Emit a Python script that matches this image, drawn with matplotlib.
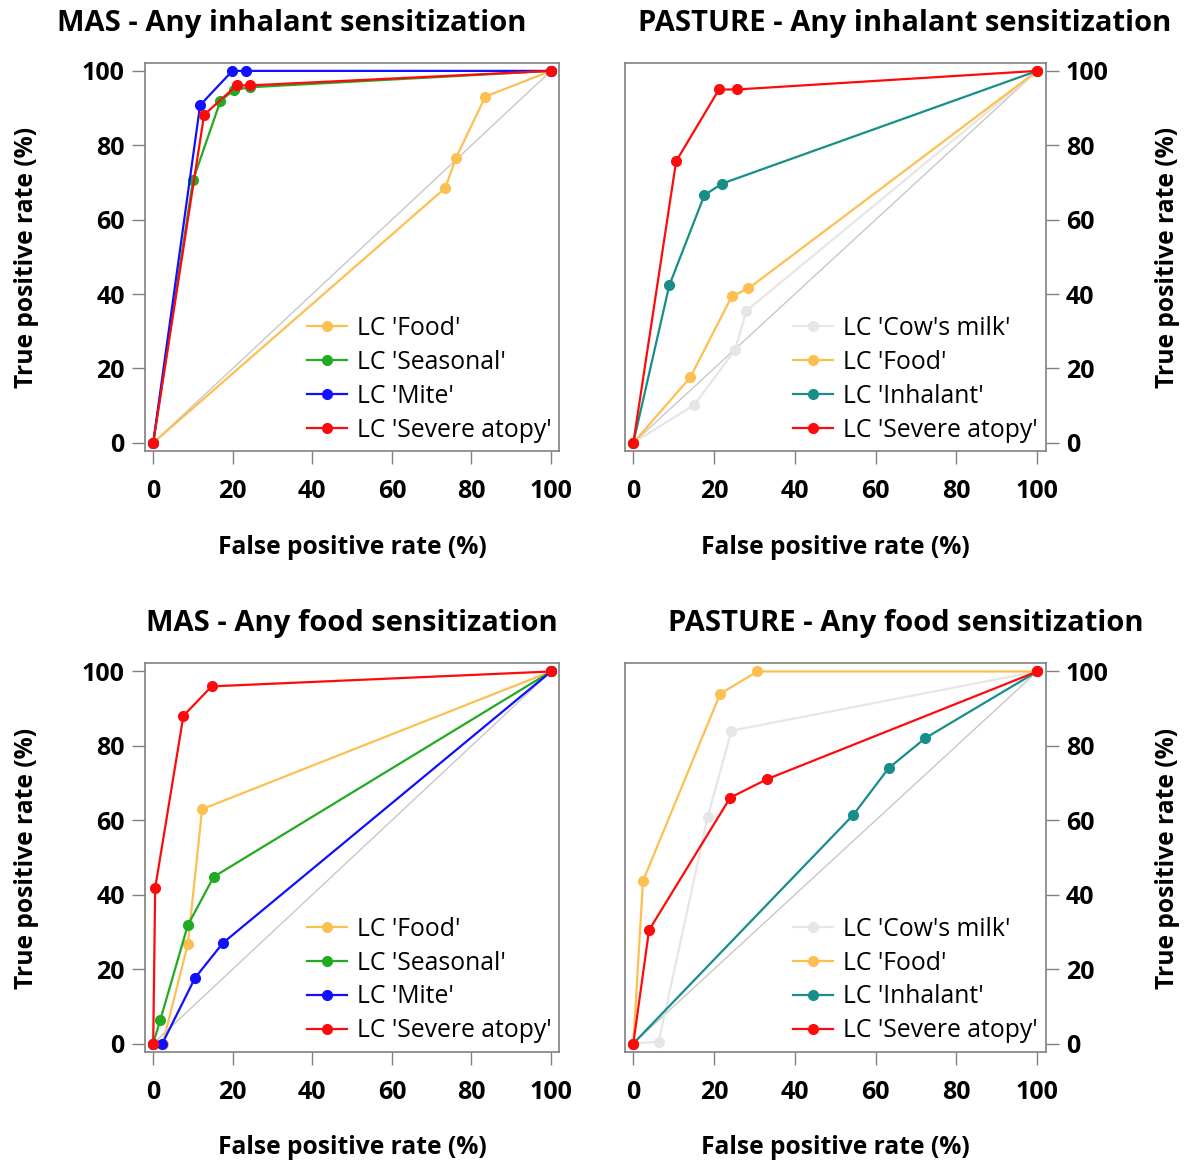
import matplotlib
matplotlib.use("Agg")
import matplotlib.pyplot as plt

plt.rcParams['font.family'] = ['Open Sans', 'DejaVu Sans']

# colours
c_food = '#FDC050'
c_seasonal = '#22AA22'
c_mite = '#1010FF'
c_severe = '#FF0A0A'
c_inhalant = '#178F88'
c_cow = '#E6E6E6'
c_diag = '#C8C8C8'

# MAS - Any inhalant sensitization
mas_inh_food_x = [0, 73.4, 76.1, 83.5, 100]
mas_inh_food_y = [0, 68.5, 76.6, 93.1, 100]
mas_inh_seas_x = [0, 10.0, 16.9, 20.3, 24.4, 100]
mas_inh_seas_y = [0, 70.6, 91.9, 94.9, 95.6, 100]
mas_inh_mite_x = [0, 11.8, 19.9, 23.4, 100]
mas_inh_mite_y = [0, 90.8, 100, 100, 100]
mas_inh_sev_x = [0, 12.8, 21.0, 24.4, 100]
mas_inh_sev_y = [0, 88.2, 96.1, 96.1, 100]

# PASTURE - Any inhalant sensitization
pas_inh_cow_x = [0, 15.1, 25.2, 28.0, 100]
pas_inh_cow_y = [0, 10.2, 25.0, 35.5, 100]
pas_inh_food_x = [0, 14.1, 24.4, 28.5, 100]
pas_inh_food_y = [0, 17.6, 39.4, 41.5, 100]
pas_inh_inh_x = [0, 8.9, 17.6, 22.0, 100]
pas_inh_inh_y = [0, 42.3, 66.6, 69.7, 100]
pas_inh_sev_x = [0, 10.6, 21.2, 25.7, 100]
pas_inh_sev_y = [0, 75.7, 95.0, 95.0, 100]

# MAS - Any food sensitization
mas_food_food_x = [0, 2.4, 8.7, 12.3, 100]
mas_food_food_y = [0, 0, 26.7, 63.0, 100]
mas_food_seas_x = [0, 1.8, 8.7, 15.2, 100]
mas_food_seas_y = [0, 6.4, 31.8, 44.8, 100]
mas_food_mite_x = [0, 2.3, 10.5, 17.5, 100]
mas_food_mite_y = [0, 0, 17.6, 27.0, 100]
mas_food_sev_x = [0, 0.5, 7.6, 14.7, 100]
mas_food_sev_y = [0, 41.8, 88.1, 96.0, 100]

# PASTURE - Any food sensitization
pas_food_cow_x = [0, 6.3, 18.4, 24.3, 100]
pas_food_cow_y = [0, 0.5, 60.9, 84.1, 100]
pas_food_food_x = [0, 2.4, 21.5, 30.7, 100]
pas_food_food_y = [0, 43.7, 94.0, 100, 100]
pas_food_inh_x = [0, 54.5, 63.2, 72.3, 100]
pas_food_inh_y = [0, 61.5, 74.0, 82.1, 100]
pas_food_sev_x = [0, 3.9, 24.0, 33.2, 100]
pas_food_sev_y = [0, 30.5, 66.1, 71.1, 100]

ticks = [0, 20, 40, 60, 80, 100]

W, H = 1192, 1164
fig = plt.figure(figsize=(W / 100, H / 100), dpi=100)


def make_axes(left, top, right, bottom):
    return fig.add_axes([left / W, 1 - bottom / H, (right - left) / W, (bottom - top) / H])


def style(ax, right_side):
    ax.set_xlim(-2.06, 102.1)
    ax.set_ylim(-2.2, 102.2)
    ax.set_xticks(ticks)
    ax.set_yticks(ticks)
    for s in ax.spines.values():
        s.set_color('#808080')
        s.set_linewidth(1.2)
    ax.tick_params(axis='both', direction='out', length=9.5, width=1.0, color='#808080',
                   labelsize=18, pad=5)
    ax.tick_params(axis='x', pad=11)
    if right_side:
        ax.yaxis.tick_right()
    for t in ax.xaxis.get_major_ticks() + ax.yaxis.get_major_ticks():
        t.label1.set_fontweight('bold')
        t.label2.set_fontweight('bold')
    ax.plot([0, 100], [0, 100], color=c_diag, lw=1.0, zorder=1)


def draw(ax, series):
    for x, y, c, lab in series:
        ax.plot(x, y, color=c, lw=1.6, marker='o', markersize=7, label=lab, zorder=2)
    ax.legend(loc='lower right', bbox_to_anchor=(1.004, -0.004), frameon=False,
              fontsize=17.8, handlelength=1.6, handletextpad=0.4, labelspacing=0.36,
              borderaxespad=0.0)


ax1 = make_axes(145, 62.7, 559.4, 451)
style(ax1, False)
draw(ax1, [
    (mas_inh_food_x, mas_inh_food_y, c_food, "LC 'Food'"),
    (mas_inh_seas_x, mas_inh_seas_y, c_seasonal, "LC 'Seasonal'"),
    (mas_inh_mite_x, mas_inh_mite_y, c_mite, "LC 'Mite'"),
    (mas_inh_sev_x, mas_inh_sev_y, c_severe, "LC 'Severe atopy'"),
])

ax2 = make_axes(625, 62.7, 1045.7, 451)
style(ax2, True)
draw(ax2, [
    (pas_inh_cow_x, pas_inh_cow_y, c_cow, "LC 'Cow's milk'"),
    (pas_inh_food_x, pas_inh_food_y, c_food, "LC 'Food'"),
    (pas_inh_inh_x, pas_inh_inh_y, c_inhalant, "LC 'Inhalant'"),
    (pas_inh_sev_x, pas_inh_sev_y, c_severe, "LC 'Severe atopy'"),
])

ax3 = make_axes(145, 663.3, 559.4, 1051.7)
style(ax3, False)
draw(ax3, [
    (mas_food_food_x, mas_food_food_y, c_food, "LC 'Food'"),
    (mas_food_seas_x, mas_food_seas_y, c_seasonal, "LC 'Seasonal'"),
    (mas_food_mite_x, mas_food_mite_y, c_mite, "LC 'Mite'"),
    (mas_food_sev_x, mas_food_sev_y, c_severe, "LC 'Severe atopy'"),
])

ax4 = make_axes(625, 663.3, 1045.7, 1051.7)
style(ax4, True)
draw(ax4, [
    (pas_food_cow_x, pas_food_cow_y, c_cow, "LC 'Cow's milk'"),
    (pas_food_food_x, pas_food_food_y, c_food, "LC 'Food'"),
    (pas_food_inh_x, pas_food_inh_y, c_inhalant, "LC 'Inhalant'"),
    (pas_food_sev_x, pas_food_sev_y, c_severe, "LC 'Severe atopy'"),
])

# titles and axis labels placed in pixel positions
def ftext(x, y, s, **kw):
    fig.text(x / W, 1 - y / H, s, ha='center', va='center', fontweight='bold', **kw)

ftext(292, 23, 'MAS - Any inhalant sensitization', fontsize=21)
ftext(905, 23, 'PASTURE - Any inhalant sensitization', fontsize=21)
ftext(352, 624, 'MAS - Any food sensitization', fontsize=21)
ftext(906, 624, 'PASTURE - Any food sensitization', fontsize=21)

for cx in (352, 835):
    ftext(cx, 547, 'False positive rate (%)', fontsize=17.7)
    ftext(cx, 1147, 'False positive rate (%)', fontsize=17.7)
for cy in (257, 858):
    ftext(27, cy, 'True positive rate (%)', fontsize=17.7, rotation=90)
    ftext(1168, cy, 'True positive rate (%)', fontsize=17.7, rotation=90)

fig.savefig('out.png', dpi=100)
